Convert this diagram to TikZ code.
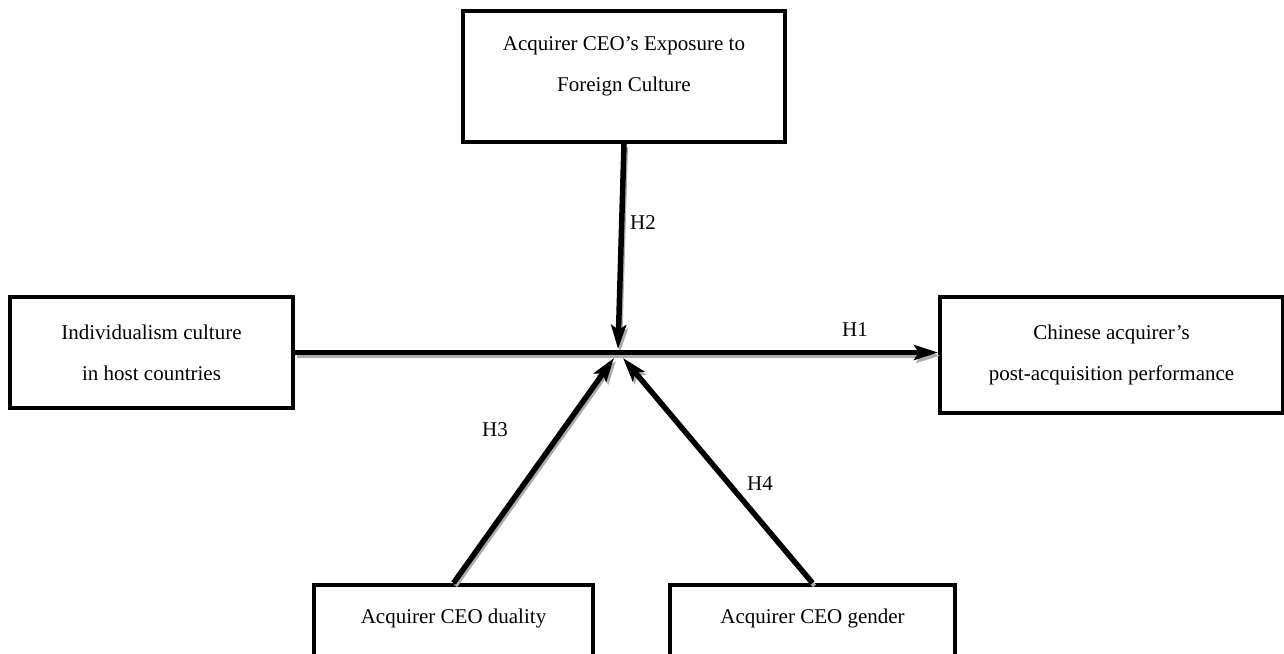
\documentclass[tikz,border=0pt]{standalone}
\usepackage{fontspec}
\setmainfont{Liberation Serif}
\usetikzlibrary{arrows.meta}
\begin{document}
\begin{tikzpicture}[x=1pt,y=-1pt,
  box/.style={draw=black, line width=4pt, fill=white, inner sep=0pt},
  txt/.style={font=\fontsize{21}{41}\selectfont, align=center, inner sep=0pt},
  conn/.style={draw=black, line width=5.5pt, -{Stealth[length=24pt,width=15pt,inset=5pt]}},
  shade/.style={conn, draw=gray!65, line width=4pt, transform canvas={xshift=2pt,yshift=-3pt}},
  lab/.style={font=\fontsize{21}{25}\selectfont, inner sep=0pt}]
\fill[white] (0,0) rectangle (1284,653);
\useasboundingbox (0,0) rectangle (1284,653);

% boxes
\node[box, minimum width=322pt, minimum height=131pt] (top) at (624,76.5) {};
\node[txt] (toptext) at (624,66) {Acquirer CEO’s Exposure to\\Foreign Culture};
\node[box, txt, minimum width=283pt, minimum height=111pt] (left) at (151.5,352.5) {Individualism culture\\in host countries};
\node[box, txt, minimum width=343pt, minimum height=116pt] (right) at (1111.5,355) {Chinese acquirer’s\\post-acquisition performance};
\node[box, minimum width=279pt, minimum height=120pt, anchor=north] (bl) at (453.5,583) {};
\node[txt] (bltext) at (453.5,618) {Acquirer CEO duality};
\node[box, minimum width=285pt, minimum height=120pt, anchor=north] (br) at (812.5,583) {};
\node[txt] (brtext) at (812.5,618) {Acquirer CEO gender};

% meeting points
\coordinate (c) at (618,349);
\coordinate (t3) at (614,358);
\coordinate (t4) at (623,358);
\coordinate (h1end) at (left.east -| right.west);

% shadows
\draw[shade] (left.east) -- (h1end);
\draw[shade] (top.south) -- (c);
\draw[shade] (bl.north) -- (t3);
\draw[shade] (br.north) -- (t4);
% connectors
\draw[conn] (left.east) -- (h1end);
\draw[conn] (top.south) -- (c);
\draw[conn] (bl.north) -- (t3);
\draw[conn] (br.north) -- (t4);

% labels
\node[lab] (h1) at (855,330) {H1};
\node[lab] (h2) at (643,223) {H2};
\node[lab] (h3) at (495,430) {H3};
\node[lab] (h4) at (760,484) {H4};
\end{tikzpicture}
\end{document}
